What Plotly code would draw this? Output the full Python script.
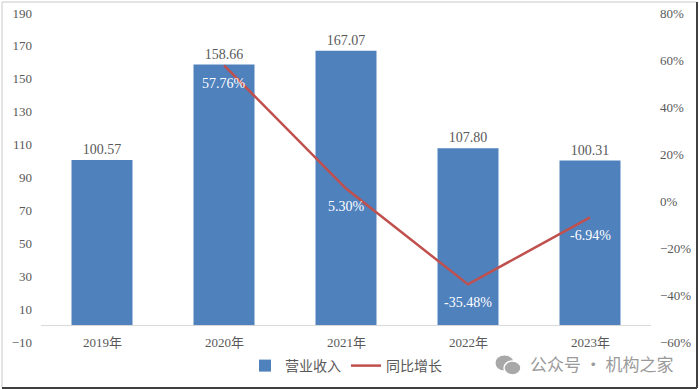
import plotly.graph_objects as go

years = ["2019年", "2020年", "2021年", "2022年", "2023年"]
revenue = [100.57, 158.66, 167.07, 107.80, 100.31]
growth_years = ["2020年", "2021年", "2022年", "2023年"]
growth = [57.76, 5.30, -35.48, -6.94]

W, H = 699, 390
L, R, T, B = 41, 48, 13, 48
pw, ph = W - L - R, H - T - B

font_num = "Liberation Serif, Noto Sans CJK SC, serif"
gray = "#595959"


def px(x):
    return (x - L) / pw


def py(y):
    return (H - B - y) / ph


fig = go.Figure()
fig.add_trace(go.Bar(
    x=years, y=revenue, name="营业收入",
    marker=dict(color="#4F81BD", line=dict(width=0)),
    text=[f"{v:.2f}" for v in revenue], textposition="outside",
    textfont=dict(color=gray, size=14, family=font_num),
    cliponaxis=False,
))
fig.add_trace(go.Scatter(
    x=growth_years, y=growth, name="同比增长", yaxis="y2",
    mode="lines", line=dict(color="#C0504D", width=2.5),
))

# growth labels, white, below each point
for yr, g in zip(growth_years, growth):
    fig.add_annotation(x=yr, y=g, xref="x", yref="y2", text=f"{g:.2f}%", showarrow=False,
                       yshift=-18, yanchor="middle",
                       font=dict(color="white", size=14, family=font_num))

# category labels sitting at the -10 level
for yr in years:
    fig.add_annotation(x=yr, y=-10, xref="x", yref="y", text=yr, showarrow=False,
                       font=dict(color=gray, size=13, family=font_num), yanchor="middle")

# axis line at zero
fig.add_shape(type="line", xref="paper", yref="y", x0=0, x1=1, y0=0, y1=0,
              line=dict(color="#D9D9D9", width=1))

# frame
fig.add_shape(type="rect", xref="paper", yref="paper", x0=px(2), x1=px(697), y0=py(388), y1=py(2),
              line=dict(color="#C8C8C8", width=1), layer="below")
fig.add_shape(type="line", xref="paper", yref="paper", x0=px(2), x1=px(697), y0=py(388), y1=py(388),
              line=dict(color="#404040", width=2))
fig.add_shape(type="line", xref="paper", yref="paper", x0=px(697), x1=px(697), y0=py(388), y1=py(2),
              line=dict(color="#404040", width=2))

# watermark icon (two bubbles) and text
fig.add_shape(type="circle", xref="paper", yref="paper", x0=px(495), x1=px(514), y0=py(371), y1=py(355),
              line=dict(color="white", width=1), fillcolor="#A8A8A8")
fig.add_shape(type="circle", xref="paper", yref="paper", x0=px(504), x1=px(521), y0=py(375), y1=py(361),
              line=dict(color="white", width=1.5), fillcolor="#A8A8A8")
fig.add_annotation(xref="paper", yref="paper", x=px(676), y=py(363),
                   xanchor="right", yanchor="middle", showarrow=False,
                   text="公众号 · 机构之家",
                   font=dict(color="#9A9A9A", size=17, family="Noto Sans CJK SC"))

fig.update_layout(
    width=W, height=H,
    margin=dict(l=L, r=R, t=T, b=B, autoexpand=False),
    paper_bgcolor="white", plot_bgcolor="white",
    bargap=0.5,
    showlegend=True,
    legend=dict(orientation="h", x=0.5, xanchor="center", y=-24 / ph, yanchor="middle",
                font=dict(color=gray, size=14, family="Noto Sans CJK SC"),
                itemwidth=30, bgcolor="rgba(0,0,0,0)"),
    xaxis=dict(showticklabels=False, showline=False, showgrid=False, zeroline=False),
    yaxis=dict(range=[-10, 190], tick0=-10, dtick=20, showgrid=False, zeroline=False,
               showline=False, tickfont=dict(color=gray, size=13, family=font_num),
               ticks="", ticklabelstandoff=8),
    yaxis2=dict(range=[-60, 80], tick0=-60, dtick=20, overlaying="y", side="right",
                showgrid=False, zeroline=False, showline=False, ticksuffix="%",
                tickfont=dict(color=gray, size=13, family=font_num), ticks="",
                ticklabelstandoff=8),
)

fig.write_html("out.html", config={"displayModeBar": False},
               post_script="document.body.style.margin='0';document.body.style.overflow='hidden';")
